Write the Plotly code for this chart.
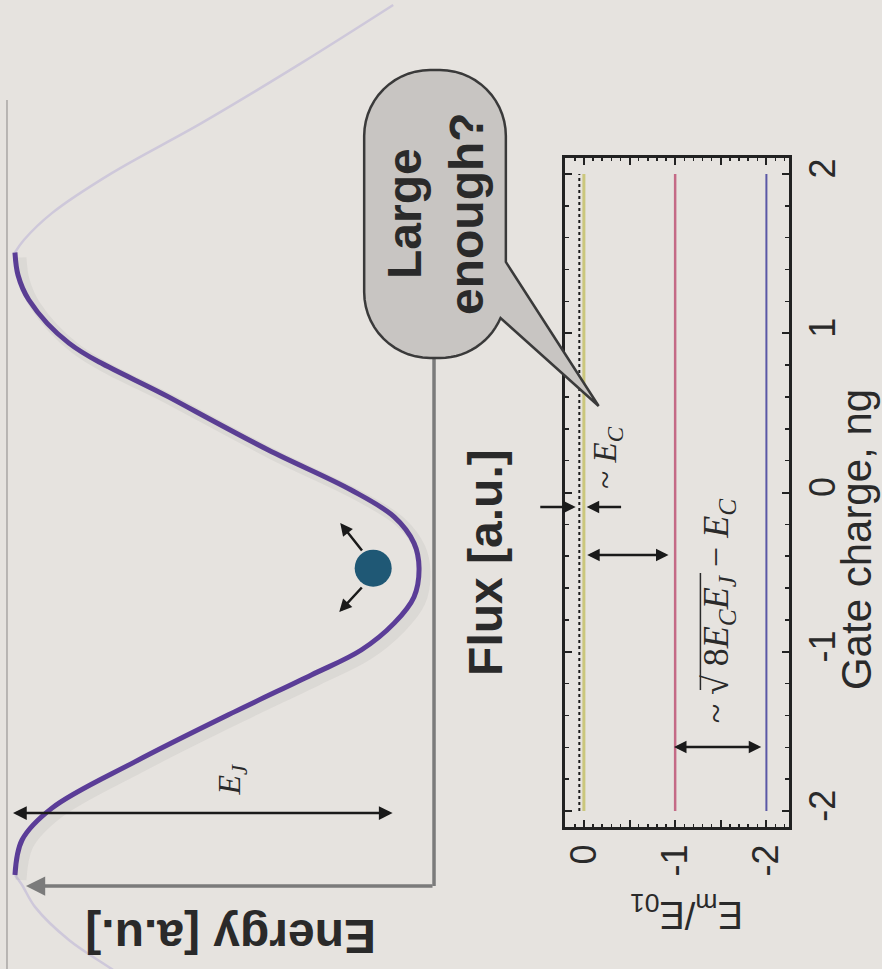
import math
import plotly.graph_objects as go

W, H = 882, 969

# ---------------- data: potential well, energy vs flux (arbitrary units) ----------------
flux_well = [1.0, 0.928, 0.848, 0.710, 0.538, 0.368, 0.24, 0.154, 0.070, -0.01,
             -0.102, -0.186, -0.272, -0.352, -0.470, -0.630, -0.778, -0.88, -0.992]
energy_well = [1.0, 0.985, 0.931, 0.733, 0.240, -0.254, -0.664, -0.877, -0.975, -1.0,
               -0.975, -0.877, -0.714, -0.467, -0.086, 0.407, 0.817, 0.965, 1.0]
flux_faint_top = [1.792, 1.606, 1.414, 1.254, 1.126, 1.04, 1.0]
energy_faint_top = [-0.872, -0.417, 0.077, 0.521, 0.817, 0.956, 1.0]
flux_faint_bot = [-0.992, -1.024, -1.094, -1.2, -1.293, -1.36]
energy_faint_bot = [1.0, 0.965, 0.901, 0.733, 0.521, 0.373]
ball_flux = [-0.01]
ball_energy = [-0.773]

# ---------------- data: levels E_m/E_01 vs gate charge ----------------
gate_charge = [-2, 2]
level_names = ["dotted", "m0", "m1", "m2"]
level_values = [0.05, 0.0, -1.0, -2.0]
level_colors = ["#1a1a1a", "#cbc77c", "#c46a86", "#5a58a6"]
level_widths = [2, 3, 2.5, 2]
level_dash = ["dot", "solid", "solid", "solid"]
ng_ticks = [-2, -1, 0, 1, 2]
ng_ticklabels = ["-2", "-1", "0", "1", "2"]
em_ticks = [0, -0.5, -1, -1.5, -2]
em_ticklabels = ["0", "", "-1", "", "-2"]

BG = "#e6e3df"
TXT = "#2a2a2a"


# ---------------- helpers (pixel -> coordinates for decorations) ----------------
def E(px):  # top panel energy axis (horizontal, reversed)
    return 1 - (px - 13) * 2 / 405


def F(py):  # top panel flux axis (vertical)
    return (565 - py) / 312.5


def X2(px):  # bottom panel E_m/E_01 axis
    return 0.21 - (px - 564) * 2.46 / 225


def Y2(py):  # bottom panel gate-charge axis
    return 2.1 - (py - 158) * 4.2 / 669


def PX(px):
    return px / W


def PY(py):
    return 1 - py / H


fig = go.Figure()

# faint continuation of the potential
fig.add_trace(go.Scatter(x=energy_faint_top, y=flux_faint_top, mode="lines",
                         line=dict(color="#cec8da", width=2.5, shape="spline"),
                         xaxis="x", yaxis="y", hoverinfo="skip", showlegend=False))
fig.add_trace(go.Scatter(x=energy_faint_bot, y=flux_faint_bot, mode="lines",
                         line=dict(color="#cec8da", width=2.5, shape="spline"),
                         xaxis="x", yaxis="y", hoverinfo="skip", showlegend=False))
# soft shadow + main curve
fig.add_trace(go.Scatter(x=energy_well, y=flux_well, mode="lines",
                         line=dict(color="rgba(90,80,80,0.07)", width=11, shape="spline"),
                         xaxis="x3", yaxis="y3", hoverinfo="skip", showlegend=False))
fig.add_trace(go.Scatter(x=energy_well, y=flux_well, mode="lines",
                         line=dict(color="#5b3d98", width=5, shape="spline"),
                         xaxis="x", yaxis="y", hoverinfo="skip", showlegend=False))
fig.add_trace(go.Scatter(x=ball_energy, y=ball_flux, mode="markers",
                         marker=dict(size=37, color="#1f5875", line=dict(width=0)),
                         xaxis="x", yaxis="y", hoverinfo="skip", showlegend=False))

# energy levels
for name, val, col, wd, ds in zip(level_names, level_values, level_colors, level_widths, level_dash):
    fig.add_trace(go.Scatter(x=[val, val], y=gate_charge, mode="lines", name=name,
                             line=dict(color=col, width=wd, dash=ds),
                             xaxis="x2", yaxis="y2", hoverinfo="skip", showlegend=False))

# ---------------- shapes ----------------
shapes = []
# thin page line on far left
shapes.append(dict(type="line", xref="paper", yref="paper", x0=PX(5), x1=PX(5), y0=PY(100), y1=PY(969),
                   line=dict(color="#a9a6a3", width=1.5), layer="below"))
# flux axis (vertical gray line)
shapes.append(dict(type="line", xref="paper", yref="paper", x0=PX(433), x1=PX(433), y0=PY(886), y1=PY(330),
                   line=dict(color="#7b7b7b", width=3.5), layer="below"))

# speech bubble
L, T, R, B, r = 363, 70, 505, 358, 66
pts = []


def arc(cx, cy, a0, a1, n=14):
    return [(cx + r * math.cos(a0 + (a1 - a0) * i / n), cy + r * math.sin(a0 + (a1 - a0) * i / n)) for i in range(n + 1)]


pts += arc(L + r, T + r, math.pi, 1.5 * math.pi)
pts += arc(R - r, T + r, 1.5 * math.pi, 2 * math.pi)
pts += [(R, 262), (598, 406)]
a_att = math.asin((318 - (B - r)) / r)
pts += arc(R - r, B - r, a_att, 0.5 * math.pi)
pts += arc(L + r, B - r, 0.5 * math.pi, math.pi)
path = "M " + " L ".join(f"{PX(x):.5f},{PY(y):.5f}" for x, y in pts) + " Z"
shapes.append(dict(type="path", xref="paper", yref="paper", path=path,
                   fillcolor="#c8c5c2", line=dict(color="#3a3a3a", width=2.5), layer="above"))
# vinculum of the square root in the rotated label
shapes.append(dict(type="line", xref="paper", yref="paper", x0=PX(700), x1=PX(700), y0=PY(690), y1=PY(573),
                   line=dict(color=TXT, width=1.5), layer="above"))


# ---------------- annotations ----------------
def arrow(x0, y0, x1, y1, xr, yr, color="#1a1a1a", width=2.5, both=False, size=1.1, head=2):
    d = dict(x=x1, y=y1, ax=x0, ay=y0, xref=xr, yref=yr, axref=xr, ayref=yr, text="",
             showarrow=True, arrowhead=head, arrowsize=size, arrowwidth=width, arrowcolor=color,
             standoff=0, startstandoff=0, arrowside="end+start" if both else "end")
    if both:
        d.update(startarrowhead=head, startarrowsize=size)
    return d


ann = []
# energy axis arrow (gray)
ann.append(arrow(E(433), F(886), E(24), F(886), "x", "y", color="#7b7b7b", width=3.5, size=1.1))
# E_J double arrow
ann.append(arrow(E(393), F(813), E(11), F(813), "x", "y", width=2.5, both=True, size=1.1))
# ball arrows
ann.append(arrow(E(362), F(552), E(339), F(523), "x", "y", width=2.5, size=1.0))
ann.append(arrow(E(362), F(586), E(338), F(612), "x", "y", width=2.5, size=1.0))
# ~E_C arrows
ann.append(arrow(X2(538), Y2(507), X2(575), Y2(507), "x2", "y2", width=2.5, size=1.0))
ann.append(arrow(X2(622), Y2(507), X2(586), Y2(507), "x2", "y2", width=2.5, size=1.0))
# level-spacing double arrows
ann.append(arrow(X2(585), Y2(555), X2(668), Y2(555), "x2", "y2", width=2.5, both=True, size=1.0))
ann.append(arrow(X2(672), Y2(747), X2(761), Y2(747), "x2", "y2", width=2.5, both=True, size=1.0))

SANS = "Liberation Sans, Arial, sans-serif"
SERIF = "Liberation Serif, Times New Roman, serif"


def label(text, px, py, angle, size, family=SANS, weight="normal", color=TXT):
    return dict(x=PX(px), y=PY(py), xref="paper", yref="paper", text=text, showarrow=False,
                textangle=angle, font=dict(family=family, size=size, color=color, weight=weight),
                xanchor="center", yanchor="middle", align="center")


ann.append(label("Energy [a.u.]", 229, 937, 180, 48, weight="bold"))
ann.append(label("Flux [a.u.]", 484, 562, -90, 48, weight="bold"))
ann.append(label("Large<br>enough?", 434, 214, -90, 48, weight="bold"))
ann.append(label("<i>E<sub>J</sub></i>", 230, 779, -90, 32, family=SERIF))
ann.append(label("Gate charge, ng", 856, 540, -90, 42))
ann.append(label("E<sub>m</sub>/E<sub>01</sub>", 686, 912, 180, 38))
ann.append(label("~ <i>E<sub>C</sub></i>", 606, 458, -90, 33, family=SERIF))
ann.append(label("~ √ 8<i>E<sub>C</sub>E<sub>J</sub></i> − <i>E<sub>C</sub></i>",
                 718, 610, -90, 36, family=SERIF))

fig.update_layout(
    width=W, height=H,
    margin=dict(l=0, r=0, t=0, b=0, pad=0),
    paper_bgcolor=BG, plot_bgcolor=BG,
    showlegend=False,
    shapes=shapes, annotations=ann,
    xaxis=dict(domain=[0, 1], range=[E(0), E(W)], visible=False, fixedrange=True),
    yaxis=dict(domain=[0, 1], range=[F(H), F(0)], visible=False, fixedrange=True),
    xaxis3=dict(overlaying="x", range=[E(-6), E(W - 6)], visible=False),
    yaxis3=dict(overlaying="y", range=[F(H - 5), F(-5)], visible=False),
    xaxis2=dict(domain=[PX(564), PX(789)], anchor="y2", range=[0.21, -2.25],
                tickmode="array", tickvals=em_ticks, ticktext=em_ticklabels,
                ticks="inside", ticklen=7, tickwidth=2, tickcolor="#222",
                minor=dict(dtick=0.1, tick0=0, ticks="inside", ticklen=3, tickwidth=1.5, tickcolor="#222"),
                tickangle=-90, tickfont=dict(family=SANS, size=36, color=TXT),
                showline=True, linewidth=3, linecolor="#222", mirror="allticks",
                showgrid=False, zeroline=False),
    yaxis2=dict(domain=[PY(827), PY(158)], anchor="x2", range=[-2.1, 2.1], side="right",
                tickmode="array", tickvals=ng_ticks, ticktext=ng_ticklabels,
                ticks="inside", ticklen=7, tickwidth=2, tickcolor="#222",
                minor=dict(dtick=0.2, tick0=0, ticks="inside", ticklen=4, tickwidth=1.5, tickcolor="#222"),
                tickangle=-90, tickfont=dict(family=SANS, size=36, color=TXT),
                showline=True, linewidth=3, linecolor="#222", mirror="allticks",
                showgrid=False, zeroline=False),
)

fig.write_html("out.html",
               config={"displayModeBar": False, "displaylogo": False, "staticPlot": True},
               post_script="document.body.style.margin='0';document.body.style.padding='0';"
                           "document.body.style.background='" + BG + "';"
                           "document.documentElement.style.overflow='hidden';")
